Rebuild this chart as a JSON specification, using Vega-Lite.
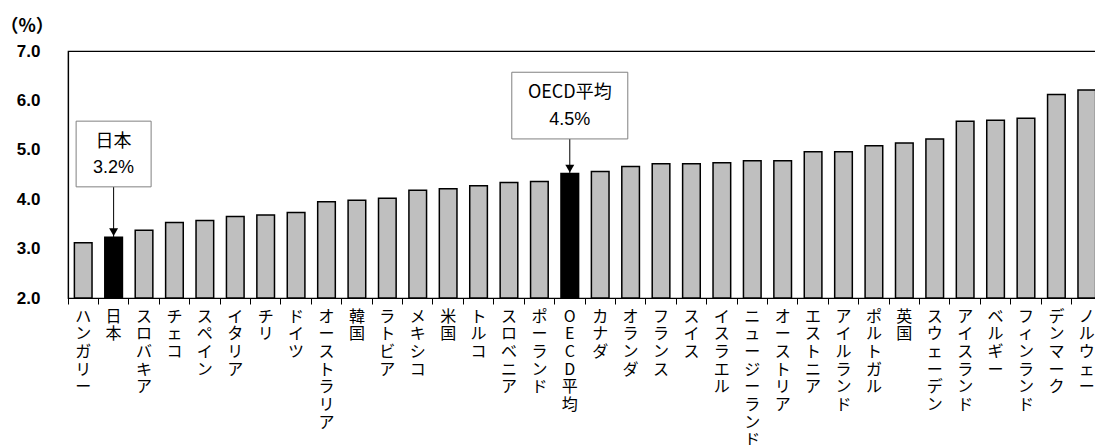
{
  "$schema": "https://vega.github.io/schema/vega-lite/v6.json",
  "autosize": {"type": "none"},
  "padding": {"left": 68, "top": 51, "right": 0, "bottom": 147},
  "width": 1028,
  "height": 247,
  "background": "white",
  "config": {
    "view": {"stroke": "#000000", "strokeWidth": 1.2},
    "font": "Liberation Sans"
  },
  "data": {
    "values": [
      {"country": "ハンガリー", "value": 3.12},
      {"country": "日本", "value": 3.23},
      {"country": "スロバキア", "value": 3.37},
      {"country": "チェコ", "value": 3.53},
      {"country": "スペイン", "value": 3.57},
      {"country": "イタリア", "value": 3.65},
      {"country": "チリ", "value": 3.68},
      {"country": "ドイツ", "value": 3.73},
      {"country": "オーストラリア", "value": 3.95},
      {"country": "韓国", "value": 3.98},
      {"country": "ラトビア", "value": 4.02},
      {"country": "メキシコ", "value": 4.18},
      {"country": "米国", "value": 4.21},
      {"country": "トルコ", "value": 4.27},
      {"country": "スロベニア", "value": 4.34},
      {"country": "ポーランド", "value": 4.36},
      {"country": "OECD平均", "value": 4.52},
      {"country": "カナダ", "value": 4.56},
      {"country": "オランダ", "value": 4.66},
      {"country": "フランス", "value": 4.72},
      {"country": "スイス", "value": 4.72},
      {"country": "イスラエル", "value": 4.74},
      {"country": "ニュージーランド", "value": 4.78},
      {"country": "オーストリア", "value": 4.78},
      {"country": "エストニア", "value": 4.96},
      {"country": "アイルランド", "value": 4.96},
      {"country": "ポルトガル", "value": 5.08},
      {"country": "英国", "value": 5.14},
      {"country": "スウェーデン", "value": 5.22},
      {"country": "アイスランド", "value": 5.58},
      {"country": "ベルギー", "value": 5.6},
      {"country": "フィンランド", "value": 5.64},
      {"country": "デンマーク", "value": 6.12},
      {"country": "ノルウェー", "value": 6.21}
    ]
  },
  "encoding": {
    "x": {
      "field": "country",
      "type": "nominal",
      "sort": null,
      "scale": {"paddingInner": 0, "paddingOuter": 0, "range": [0, 1034]},
      "axis": {
        "title": null,
        "bandPosition": 0,
        "labelAngle": 0,
        "labelAlign": "center",
        "labelBaseline": "top",
        "labelExpr": "split(datum.label, '')",
        "labelFont": "Noto Sans CJK JP",
        "labelFontSize": 16,
        "labelLineHeight": 17.7,
        "labelColor": "#000000",
        "labelPadding": 4,
        "labelOverlap": false,
        "labelLimit": 0,
        "tickSize": 6,
        "tickColor": "#000000",
        "domainColor": "#000000",
        "domainWidth": 1.2,
        "grid": false
      }
    }
  },
  "layer": [
    {
      "mark": {"type": "bar", "width": {"band": 0.58}, "stroke": "#000000", "strokeWidth": 1.5},
      "encoding": {
        "y": {
          "field": "value",
          "type": "quantitative",
          "scale": {"domain": [2, 7], "nice": false, "zero": false},
          "axis": {
            "title": "（%）",
            "titleAngle": 0,
            "titleAlign": "left",
            "titleBaseline": "middle",
            "titleX": -68,
            "titleY": -25,
            "titleFont": "Noto Sans CJK JP",
            "titleFontSize": 18,
            "titleFontWeight": "bold",
            "titleColor": "#000000",
            "values": [2, 3, 4, 5, 6, 7],
            "format": ".1f",
            "labelFontSize": 17,
            "labelFontWeight": "bold",
            "labelColor": "#000000",
            "labelPadding": 28,
            "ticks": false,
            "grid": false,
            "domainColor": "#000000",
            "domainWidth": 1.2
          }
        },
        "y2": {"datum": 2},
        "fill": {
          "condition": {"test": "datum.country === '日本' || datum.country === 'OECD平均'", "value": "#000000"},
          "value": "#bfbfbf"
        }
      }
    },
    {
      "transform": [{"filter": "datum.country === '日本'"}],
      "mark": {"type": "rule", "color": "#000000", "strokeWidth": 1},
      "encoding": {"y": {"field": "value", "type": "quantitative"}, "y2": {"datum": 4.25}}
    },
    {
      "transform": [{"filter": "datum.country === '日本'"}],
      "mark": {"type": "point", "shape": "triangle-down", "filled": true, "color": "#000000", "size": 80, "opacity": 1, "yOffset": -5},
      "encoding": {"y": {"field": "value", "type": "quantitative"}}
    },
    {
      "transform": [{"filter": "datum.country === '日本'"}],
      "mark": {"type": "bar", "width": 75, "fill": "#ffffff", "stroke": "#808080", "strokeWidth": 1},
      "encoding": {"y": {"datum": 5.58, "type": "quantitative"}, "y2": {"datum": 4.25}}
    },
    {
      "transform": [{"filter": "datum.country === '日本'"}],
      "mark": {"type": "text", "font": "Noto Sans CJK JP", "fontSize": 18, "color": "#000000", "baseline": "middle"},
      "encoding": {"y": {"datum": 5.16, "type": "quantitative"}, "text": {"field": "country", "type": "nominal"}}
    },
    {
      "transform": [{"filter": "datum.country === '日本'"}, {"calculate": "format(datum.value, '.1f') + '%'", "as": "pct"}],
      "mark": {"type": "text", "font": "Liberation Sans", "fontSize": 18, "color": "#000000", "baseline": "middle"},
      "encoding": {"y": {"datum": 4.63, "type": "quantitative"}, "text": {"field": "pct", "type": "nominal"}}
    },
    {
      "transform": [{"filter": "datum.country === 'OECD平均'"}],
      "mark": {"type": "rule", "color": "#000000", "strokeWidth": 1},
      "encoding": {"y": {"field": "value", "type": "quantitative"}, "y2": {"datum": 5.22}}
    },
    {
      "transform": [{"filter": "datum.country === 'OECD平均'"}],
      "mark": {"type": "point", "shape": "triangle-down", "filled": true, "color": "#000000", "size": 80, "opacity": 1, "yOffset": -5},
      "encoding": {"y": {"field": "value", "type": "quantitative"}}
    },
    {
      "transform": [{"filter": "datum.country === 'OECD平均'"}],
      "mark": {"type": "bar", "width": 116, "fill": "#ffffff", "stroke": "#808080", "strokeWidth": 1},
      "encoding": {"y": {"datum": 6.57, "type": "quantitative"}, "y2": {"datum": 5.22}}
    },
    {
      "transform": [{"filter": "datum.country === 'OECD平均'"}],
      "mark": {"type": "text", "font": "Noto Sans CJK JP", "fontSize": 18, "color": "#000000", "baseline": "middle"},
      "encoding": {"y": {"datum": 6.14, "type": "quantitative"}, "text": {"field": "country", "type": "nominal"}}
    },
    {
      "transform": [{"filter": "datum.country === 'OECD平均'"}, {"calculate": "format(datum.value, '.1f') + '%'", "as": "pct"}],
      "mark": {"type": "text", "font": "Liberation Sans", "fontSize": 18, "color": "#000000", "baseline": "middle"},
      "encoding": {"y": {"datum": 5.6, "type": "quantitative"}, "text": {"field": "pct", "type": "nominal"}}
    }
  ]
}
